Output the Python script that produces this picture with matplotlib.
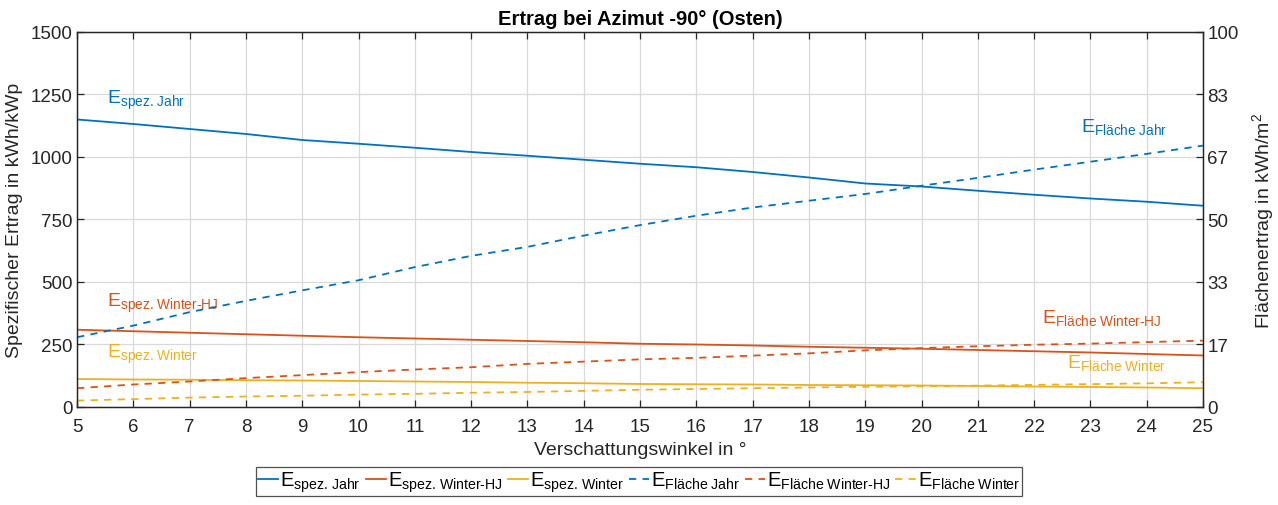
import numpy as np
import matplotlib
matplotlib.use("Agg")
import matplotlib.pyplot as plt
from matplotlib import font_manager

# Schmale Schrift bevorzugen, sonst Liberation Sans
_namen = {f.name for f in font_manager.fontManager.ttflist}
schrift = "Liberation Sans Narrow" if "Liberation Sans Narrow" in _namen else "Liberation Sans"
schmal = schrift != "Liberation Sans"

plt.rcParams["font.family"] = [schrift, "DejaVu Sans"]
plt.rcParams["mathtext.fontset"] = "custom"
plt.rcParams["mathtext.rm"] = schrift
plt.rcParams["mathtext.it"] = schrift
plt.rcParams["mathtext.bf"] = schrift + ":bold"

# Verschattungswinkel in Grad
winkel = list(range(5, 26))

# Spezifischer Ertrag (kWh/kWp, linke Achse)
spez_jahr = [1150, 1132, 1112, 1092, 1068, 1053, 1037, 1020, 1005, 989, 973,
             959, 940, 918, 894, 882, 865, 849, 834, 821, 805]
spez_winter_hj = [309, 303, 297, 291, 285, 279, 274, 269, 264, 259, 253,
                  250, 246, 241, 237, 233, 228, 223, 218, 212, 206]
spez_winter = [112, 110, 109, 107, 106, 104, 102, 100, 97, 95, 92,
               91, 90, 88, 87, 86, 84, 82, 80, 78, 75]

# Flächenertrag (kWh/m², rechte Achse)
flaeche_jahr = [18.6, 21.7, 25.3, 28.3, 31.1, 33.8, 37.3, 40.3, 42.7, 45.7, 48.5,
                51.0, 53.2, 55.0, 56.8, 59.0, 61.1, 63.3, 65.4, 67.5, 69.7]
flaeche_winter_hj = [5.0, 6.0, 6.8, 7.7, 8.5, 9.3, 10.0, 10.6, 11.5, 12.1, 12.7,
                     13.1, 13.7, 14.3, 15.1, 15.7, 16.2, 16.6, 16.9, 17.3, 17.7]
flaeche_winter = [1.7, 2.1, 2.5, 2.8, 3.0, 3.3, 3.5, 3.8, 4.0, 4.3, 4.6,
                  4.8, 5.0, 5.2, 5.4, 5.5, 5.7, 5.9, 6.1, 6.3, 6.6]

links_ticks = [0, 250, 500, 750, 1000, 1250, 1500]
rechts_labels = ["0", "17", "33", "50", "67", "83", "100"]

blau = "#0072BD"
orange = "#D95319"
gelb = "#EDB120"
achse = "#262626"

k = 1.12 if schmal else 1.0   # schmale Schrift etwas größer setzen

fig = plt.figure(figsize=(12.78, 5.06), dpi=100)
ax = fig.add_axes([0.0603, 0.1937, 0.8810, 0.7411])
ax2 = ax.twinx()

lw = 1.3
h1, = ax.plot(winkel, spez_jahr, color=blau, lw=lw)
h2, = ax.plot(winkel, spez_winter_hj, color=orange, lw=lw)
h3, = ax.plot(winkel, spez_winter, color=gelb, lw=lw)
dash = (0, (4, 3.5))
h4, = ax2.plot(winkel, flaeche_jahr, color=blau, lw=lw, linestyle=dash)
h5, = ax2.plot(winkel, flaeche_winter_hj, color=orange, lw=lw, linestyle=dash)
h6, = ax2.plot(winkel, flaeche_winter, color=gelb, lw=lw, linestyle=dash)

ax.set_xlim(5, 25)
ax.set_ylim(0, 1500)
ax2.set_ylim(0, 100)
ax.set_xticks(winkel)
ax.set_yticks(links_ticks)
ax2.set_yticks(np.linspace(0, 100, 7))
ax2.set_yticklabels(rechts_labels)

ax.grid(True, color="#d9d9d9", lw=0.9)
ax.set_axisbelow(True)

for a in (ax, ax2):
    for s in a.spines.values():
        s.set_color(achse)
        s.set_linewidth(0.9)
    a.tick_params(direction="in", length=5, width=0.9, colors=achse,
                  labelsize=13.5 * k, labelcolor=achse)
ax.tick_params(axis="x", top=True, pad=8)
ax.tick_params(axis="y", pad=3)
ax2.tick_params(axis="y", pad=3)

ax.set_title("Ertrag bei Azimut -90° (Osten)", fontsize=14.5 * k, fontweight="bold",
             color="black", pad=6)
ax.set_xlabel("Verschattungswinkel in °", fontsize=14 * k, color=achse, labelpad=4)
ax.set_ylabel("Spezifischer Ertrag in kWh/kWp", fontsize=14 * k, color=achse, labelpad=6)
ax2.set_ylabel("Flächenertrag in kWh/m$^2$", fontsize=14 * k, color=achse, labelpad=8)


def lab(txt):
    return r"$\mathrm{E}_{\text{%s}}$" % txt


fs = 14 * k
ax.text(5.53, 1216, lab("spez. Jahr"), color=blau, fontsize=fs, va="baseline")
ax.text(5.53, 404, lab("spez. Winter-HJ"), color=orange, fontsize=fs, va="baseline")
ax.text(5.53, 200, lab("spez. Winter"), color=gelb, fontsize=fs, va="baseline")
ax2.text(22.83, 73.6, lab("Fläche Jahr"), color=blau, fontsize=fs, va="baseline")
ax2.text(22.14, 22.7, lab("Fläche Winter-HJ"), color=orange, fontsize=fs, va="baseline")
ax2.text(22.58, 10.7, lab("Fläche Winter"), color=gelb, fontsize=fs, va="baseline")

handles = [h1, h2, h3, h4, h5, h6]
names = [lab("spez. Jahr"), lab("spez. Winter-HJ"), lab("spez. Winter"),
         lab("Fläche Jahr"), lab("Fläche Winter-HJ"), lab("Fläche Winter")]
leg = fig.legend(handles, names, loc="center", bbox_to_anchor=(0.5, 0.046),
                 ncol=6, fontsize=14.5 * k, frameon=True, fancybox=False,
                 handlelength=1.0, handletextpad=0.1, columnspacing=0.25,
                 borderpad=0.12, borderaxespad=0)
leg.get_frame().set_edgecolor(achse)
leg.get_frame().set_linewidth(0.9)

fig.savefig("out.png", dpi=100)
